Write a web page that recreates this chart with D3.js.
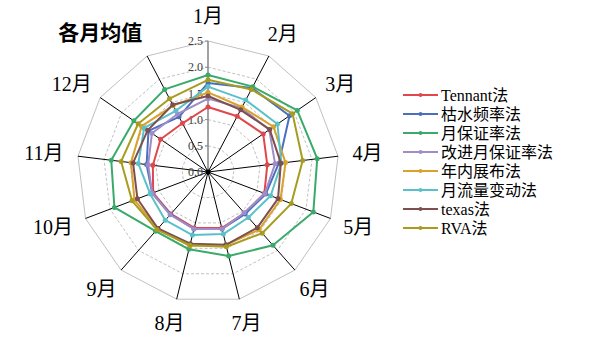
<!DOCTYPE html>
<html>
<head>
<meta charset="utf-8">
<script src="https://cdn.jsdelivr.net/npm/d3@7"></script>
<style>
  body {margin:0; background:#fff;}
  svg text {font-family:"Liberation Serif","Noto Sans CJK SC",serif;}
</style>
</head>
<body>
<svg width="589" height="342"></svg>
<script>
// categories (13th spoke is the monthly mean)
var categories = ["1月","2月","3月","4月","5月","6月","7月","8月","9月","10月","11月","12月","各月均值"];
var ticks = [0, 0.5, 1, 1.5, 2, 2.5];
var seriesNames = ["Tennant法","枯水频率法","月保证率法","改进月保证率法","年内展布法","月流量变动法","texas法","RVA法"];
var colors = ["#E0474C","#4A6FC0","#3AAA6A","#A08DC8","#D9A22A","#5BC0C9","#7D4F4F","#A79C20"];

var tennant  = [1.24,1.20,1.28,1.14,1.15,1.05,1.10,1.10,1.07,1.12,1.06,1.10,1.05];
var kushui   = [1.70,1.81,1.89,1.36,1.18,1.07,1.12,1.12,1.08,1.14,1.18,1.38,1.19];
var baozheng = [1.85,1.84,2.07,2.10,2.15,1.87,1.65,1.52,1.51,1.91,1.86,1.72,1.78];
var gaijin   = [1.40,1.38,1.42,1.29,1.16,1.04,1.12,1.12,1.09,1.14,1.15,1.30,1.25];
var niannei  = [1.52,1.40,1.52,1.49,1.48,1.47,1.43,1.45,1.45,1.50,1.48,1.54,1.43];
var liuliang = [1.63,1.55,1.61,1.41,1.28,1.16,1.22,1.24,1.23,1.18,1.34,1.48,1.32];
var texas    = [1.45,1.34,1.43,1.40,1.43,1.42,1.43,1.41,1.44,1.44,1.44,1.40,1.45];
var rva      = [1.76,1.78,1.96,1.82,1.70,1.56,1.47,1.44,1.47,1.55,1.67,1.62,1.58];

var series = [tennant, kushui, baozheng, gaijin, niannei, liuliang, texas, rva];

var svg = d3.select("svg"),
    cx = 208, cy = 172,
    g = svg.append("g").attr("transform", "translate(" + cx + "," + cy + ")");

var r = d3.scaleLinear().domain([0, 2.5]).range([0, 131]);
var angle = d3.scalePoint().domain(categories.concat(["_end"])).range([0, 2 * Math.PI]);

function pt(cat, v) {
  var a = angle(cat);
  return [Math.sin(a) * r(v), -Math.cos(a) * r(v)];
}

// grid polygons
g.selectAll(".grid")
  .data(ticks.slice(1))
  .enter().append("polygon")
    .attr("points", function(t) { return categories.map(function(c) { return pt(c, t).join(","); }).join(" "); })
    .attr("fill", "none")
    .attr("stroke", "#b0b0b0")
    .attr("stroke-width", 0.8)
    .attr("stroke-dasharray", function(t) { return t === 2.5 ? null : "3,2"; });

// spokes
g.selectAll(".spoke")
  .data(categories)
  .enter().append("line")
    .attr("x1", 0).attr("y1", 0)
    .attr("x2", function(c) { return pt(c, 2.5)[0]; })
    .attr("y2", function(c) { return pt(c, 2.5)[1]; })
    .attr("stroke", function(c, i) { return i === 0 ? "#8c8c8c" : "#000"; })
    .attr("stroke-width", function(c, i) { return i === 0 ? 1.6 : 1; });

// tick labels on the first spoke
g.selectAll(".tick")
  .data(ticks)
  .enter().append("text")
    .attr("x", -5)
    .attr("y", function(t) { return -r(t); })
    .attr("dy", "0.35em")
    .attr("text-anchor", "end")
    .attr("font-size", 12)
    .attr("fill", "#404040")
    .text(function(t) { return t.toFixed(1); });
g.selectAll(".tickmark")
  .data(ticks)
  .enter().append("line")
    .attr("x1", -3).attr("x2", 0)
    .attr("y1", function(t) { return -r(t); })
    .attr("y2", function(t) { return -r(t); })
    .attr("stroke", "#8c8c8c");

// series
var line = d3.line().x(function(d) { return d[0]; }).y(function(d) { return d[1]; }).curve(d3.curveLinearClosed);
series.forEach(function(vals, s) {
  var pts = vals.map(function(v, i) { return pt(categories[i], v); });
  g.append("path")
    .attr("d", line(pts))
    .attr("fill", "none")
    .attr("stroke", colors[s])
    .attr("stroke-width", 2)
    .attr("stroke-linejoin", "round");
  g.selectAll(".m" + s)
    .data(pts)
    .enter().append("circle")
      .attr("cx", function(d) { return d[0]; })
      .attr("cy", function(d) { return d[1]; })
      .attr("r", 2.5)
      .attr("fill", colors[s]);
});

g.append("circle").attr("r", 2.5).attr("fill", "#000");

// category labels
g.selectAll(".cat")
  .data(categories)
  .enter().append("text")
    .attr("font-size", function(c, i) { return i === 12 ? 21 : 20; })
    .attr("font-weight", function(c, i) { return i === 12 ? "bold" : null; })
    .attr("text-anchor", function(c, i) { return i === 12 ? "end" : "middle"; })
    .attr("dy", "0.35em")
    .text(function(c) { return c; })
    .each(function(c, i) {
      var w = this.getComputedTextLength(), h = 20, a = angle(c);
      var p = pt(c, 2.5 + 0.28);
      var x = p[0] + Math.sin(a) * w / 2, y = p[1] - Math.cos(a) * h / 2;
      if (i === 12) { x = p[0] + 2; y = p[1] - 10; }
      d3.select(this).attr("x", x).attr("y", y);
    });

// legend
var legend = svg.append("g").attr("transform", "translate(403,95)");
var rows = legend.selectAll("g")
  .data(seriesNames)
  .enter().append("g")
    .attr("transform", function(d, i) { return "translate(0," + i * 19 + ")"; });
rows.append("line")
  .attr("x1", 0).attr("x2", 35).attr("y1", 0).attr("y2", 0)
  .attr("stroke", function(d, i) { return colors[i]; })
  .attr("stroke-width", 2);
rows.append("circle")
  .attr("cx", 17.5).attr("r", 2)
  .attr("fill", function(d, i) { return colors[i]; });
rows.append("text")
  .attr("x", 38)
  .attr("dy", "0.35em")
  .attr("font-size", 16)
  .attr("fill", "#000")
  .text(function(d) { return d; });
</script>
</body>
</html>
